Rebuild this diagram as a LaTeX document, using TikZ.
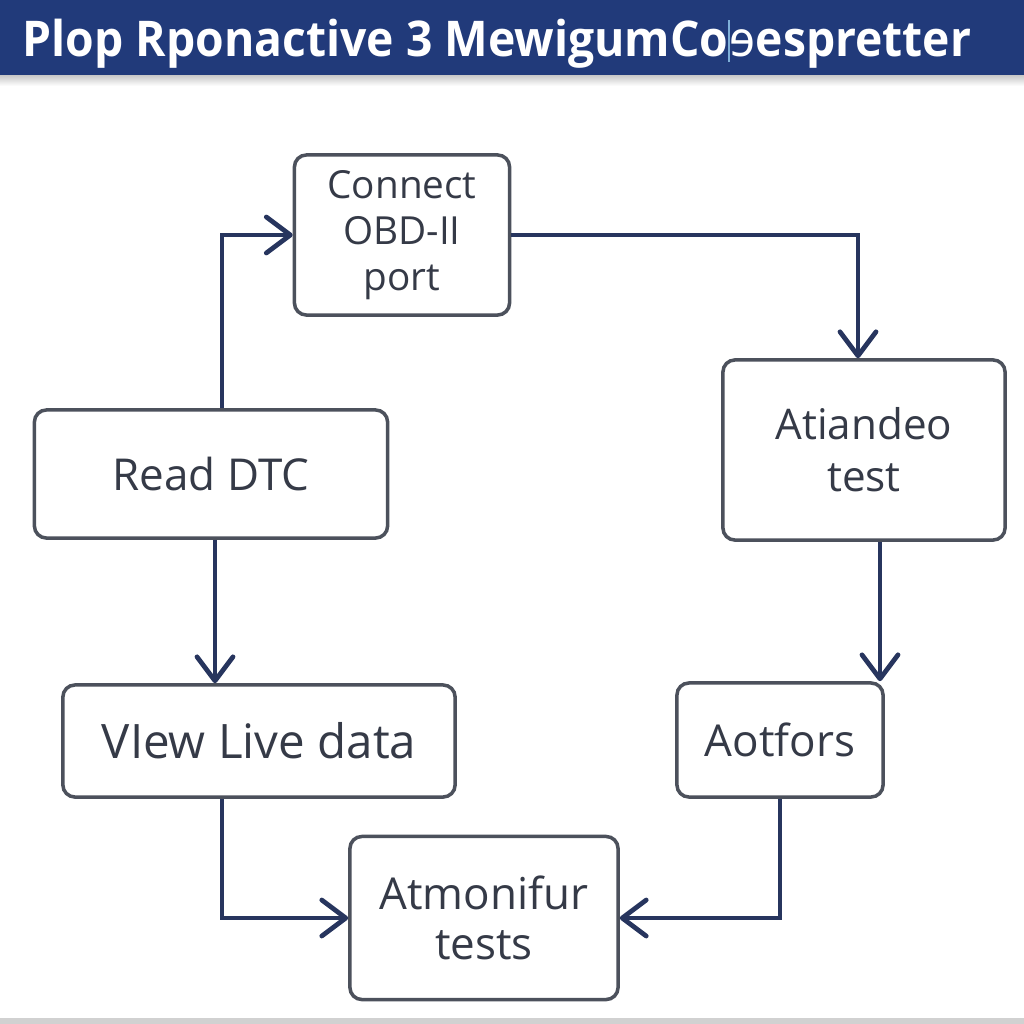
\documentclass[tikz,border=0pt]{standalone}
\usepackage{fontspec}
\setmainfont{Open Sans}
\newfontfamily\ipafont{Noto Sans}
\usetikzlibrary{arrows.meta}
\definecolor{titlebar}{HTML}{213A7A}
\definecolor{boxline}{HTML}{4C515C}
\definecolor{boxtext}{HTML}{353A47}
\definecolor{flow}{HTML}{27355E}
\definecolor{cursor}{HTML}{7FB0D8}
\tikzset{stepbox/.style={draw=boxline,line width=1pt,rounded corners=0.12cm,fill=white,text=boxtext,align=center,inner sep=0pt}}
\tikzset{flowline/.style={draw=flow,line width=1.35pt,-{Straight Barb[round,length=0.24cm,width=0.36cm]}}}

\begin{document}
\begin{tikzpicture}[x=0.01cm,y=-0.01cm]
            \useasboundingbox (0,0) rectangle (1024,1024);
            \fill[white] (0,0) rectangle (1024,1024);
            % title bar
            \fill[titlebar] (0,0) rectangle (1024,75);
            \shade[top color=black!22,bottom color=white] (0,75) rectangle (1024,86);
            \fill[black!18] (0,1018) rectangle (1024,1024);
            \node[anchor=base west,text=white,inner sep=0pt,font=\bfseries\fontsize{14}{16}\selectfont] (title) at (22,56)
                {\resizebox{9.48cm}{\height}{Plop Rponactive 3 MewigumCo\textcolor{cursor}{\rule[-0.06cm]{0.4pt}{0.42cm}}{\ipafont\bfseries ɘ}espretter}};

            \node[stepbox,minimum width=2.15cm,minimum height=1.60cm,font=\fontsize{11}{13}\selectfont] (connect) at (402,235) {Connect\\OBD-II\\port};
            \node[stepbox,minimum width=2.82cm,minimum height=1.80cm,font=\fontsize{12}{14.8}\selectfont] (atiandeo) at (864,450) {Atiandeo\\test};
            \node[stepbox,minimum width=3.53cm,minimum height=1.28cm,font=\fontsize{12.5}{15}\selectfont] (readdtc) at (211,474) {Read DTC};
            \node[stepbox,minimum width=3.92cm,minimum height=1.12cm,font=\fontsize{13.5}{16}\selectfont] (live) at (259,741) {VIew Live data};
            \node[stepbox,minimum width=2.06cm,minimum height=1.14cm,font=\fontsize{12.5}{15}\selectfont] (aotfors) at (780,740) {Aotfors};
            \node[stepbox,minimum width=2.68cm,minimum height=1.63cm,font=\fontsize{12.5}{14.2}\selectfont] (atmonifur) at (484,918) {Atmonifur\\tests};

            \draw[flowline] ([xshift=0.11cm]readdtc.north) |- (connect.west);
            \draw[flowline] (connect.east) -| ([xshift=-0.06cm]atiandeo.north);
            \draw[flowline] ([xshift=0.16cm]atiandeo.south) -- ([xshift=0.16cm]atiandeo.south |- aotfors.north);
            \draw[flowline] ([xshift=0.04cm]readdtc.south) -- ([xshift=0.04cm]readdtc.south |- live.north);
            \draw[flowline] ([xshift=-0.37cm]live.south) |- (atmonifur.west);
            \draw[flowline] (aotfors.south) |- (atmonifur.east);
            \end{tikzpicture}
\end{document}
